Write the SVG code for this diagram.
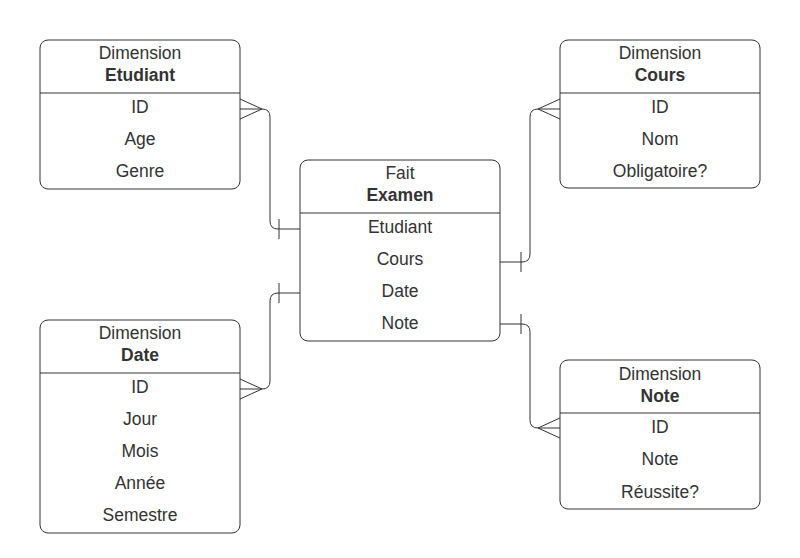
<svg xmlns="http://www.w3.org/2000/svg" width="800" height="558" viewBox="0 0 800 558">
<style>
.box{fill:#fff;stroke:#333;stroke-width:1}
.div{stroke:#333;stroke-width:1}
.t{font-family:"Liberation Sans",Arial,sans-serif;font-size:17.5px;fill:#333;text-anchor:middle}
.b{font-weight:bold}
.c{fill:none;stroke:#333;stroke-width:1}
</style>
<rect width="800" height="558" fill="#fff"/>
<g id="connectors">
<path class="c" d="M240,109 H262 Q270,109 270,117 V221 Q270,229 278,229 H300"/>
<path class="c" d="M240,99 L262,109 L240,119 M279,219 V239"/>
<path class="c" d="M500,262 H522 Q530,262 530,254 V117 Q530,109 538,109 H560"/>
<path class="c" d="M560,99 L538,109 L560,119 M521,252 V272"/>
<path class="c" d="M300,293 H278 Q270,293 270,301 V381 Q270,389 262,389 H240"/>
<path class="c" d="M240,379 L262,389 L240,399 M279,283 V303"/>
<path class="c" d="M500,324 H522 Q530,324 530,332 V420 Q530,428 538,428 H560"/>
<path class="c" d="M560,418 L538,428 L560,438 M521,314 V334"/>
</g>
<g id="dim-etudiant">
<rect class="box" x="40" y="40" width="200" height="149" rx="8"/>
<line class="div" x1="40" y1="93" x2="240" y2="93"/>
<text class="t" x="140" y="59">Dimension</text>
<text class="t b" x="140" y="81">Etudiant</text>
<text class="t" x="140" y="113">ID</text>
<text class="t" x="140" y="145">Age</text>
<text class="t" x="140" y="177">Genre</text>
</g>
<g id="dim-cours">
<rect class="box" x="560" y="40" width="200" height="148" rx="8"/>
<line class="div" x1="560" y1="93" x2="760" y2="93"/>
<text class="t" x="660" y="59">Dimension</text>
<text class="t b" x="660" y="81">Cours</text>
<text class="t" x="660" y="113">ID</text>
<text class="t" x="660" y="145">Nom</text>
<text class="t" x="660" y="177">Obligatoire?</text>
</g>
<g id="fait-examen">
<rect class="box" x="300" y="160" width="200" height="181" rx="8"/>
<line class="div" x1="300" y1="213" x2="500" y2="213"/>
<text class="t" x="400" y="179">Fait</text>
<text class="t b" x="400" y="201">Examen</text>
<text class="t" x="400" y="233">Etudiant</text>
<text class="t" x="400" y="265">Cours</text>
<text class="t" x="400" y="297">Date</text>
<text class="t" x="400" y="329">Note</text>
</g>
<g id="dim-date">
<rect class="box" x="40" y="320" width="200" height="213" rx="8"/>
<line class="div" x1="40" y1="373" x2="240" y2="373"/>
<text class="t" x="140" y="339">Dimension</text>
<text class="t b" x="140" y="361">Date</text>
<text class="t" x="140" y="393">ID</text>
<text class="t" x="140" y="425">Jour</text>
<text class="t" x="140" y="457">Mois</text>
<text class="t" x="140" y="489">Année</text>
<text class="t" x="140" y="521">Semestre</text>
</g>
<g id="dim-note">
<rect class="box" x="560" y="360" width="200" height="149" rx="8"/>
<line class="div" x1="560" y1="413" x2="760" y2="413"/>
<text class="t" x="660" y="380">Dimension</text>
<text class="t b" x="660" y="402">Note</text>
<text class="t" x="660" y="433">ID</text>
<text class="t" x="660" y="465">Note</text>
<text class="t" x="660" y="498">Réussite?</text>
</g>
</svg>
